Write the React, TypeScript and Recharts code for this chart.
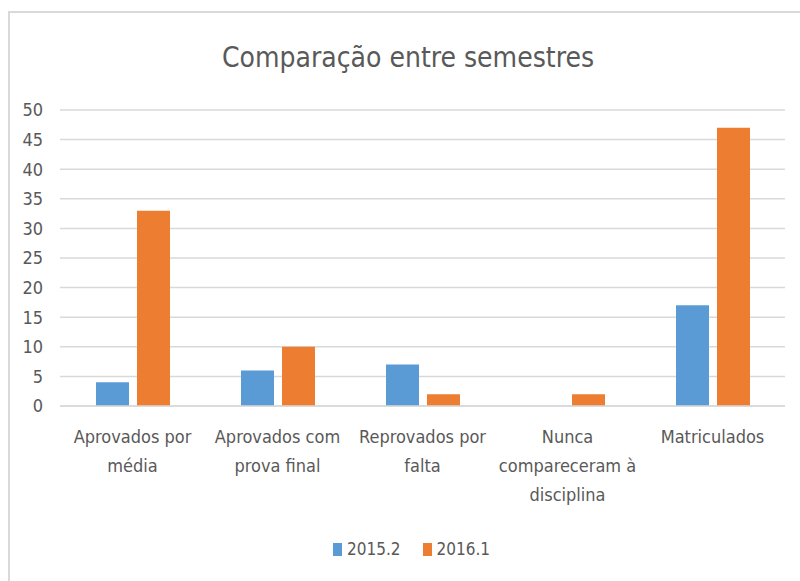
import { BarChart, Bar, XAxis, YAxis, CartesianGrid, Legend } from 'recharts';

const categories = [
  'Aprovados por média',
  'Aprovados com prova final',
  'Reprovados por falta',
  'Nunca compareceram à disciplina',
  'Matriculados',
];
const categoryLines = [
  ['Aprovados por', 'média'],
  ['Aprovados com', 'prova final'],
  ['Reprovados por', 'falta'],
  ['Nunca', 'compareceram à', 'disciplina'],
  ['Matriculados'],
];
const sem20152 = [4, 6, 7, 0, 17];
const sem20161 = [33, 10, 2, 2, 47];
const yTicks = [0, 5, 10, 15, 20, 25, 30, 35, 40, 45, 50];

const data = categories.map((c, i) => ({
  name: c,
  s1: sem20152[i],
  s2: sem20161[i],
}));

const FONT = "'Liberation Sans Narrow', 'DejaVu Sans Condensed', 'Open Sans', sans-serif";
const GREY = '#595959';
const BLUE = '#5b9bd5';
const ORANGE = '#ed7d31';

function CategoryTick(props: any) {
  const { x, y, payload } = props;
  const lines = categoryLines[payload.index] ?? [String(payload.value)];
  return (
    <text x={x} y={y + 29} textAnchor="middle" fill={GREY} fontSize={18} fontFamily={FONT}>
      {lines.map((l, i) => (
        <tspan key={i} x={x} dy={i === 0 ? 0 : 29}>{l}</tspan>
      ))}
    </text>
  );
}

function LegendContent() {
  const items = [
    { label: '2015.2', color: BLUE },
    { label: '2016.1', color: ORANGE },
  ];
  return (
    <div style={{ display: 'flex', justifyContent: 'center', gap: 22, paddingLeft: 38, fontFamily: FONT, fontSize: 17, color: GREY }}>
      {items.map(it => (
        <div key={it.label} style={{ display: 'flex', alignItems: 'center', gap: 5 }}>
          <span style={{ display: 'inline-block', width: 9, height: 13, background: it.color }} />
          <span>{it.label}</span>
        </div>
      ))}
    </div>
  );
}

export default function App() {
  return (
    <div style={{ position: 'absolute', left: 0, top: 0, width: 800, height: 581, background: '#fff', overflow: 'hidden' }}>
      {/* chart frame, only left and top edges show */}
      <div style={{ position: 'absolute', left: 8, top: 11, width: 800, height: 580, borderLeft: '2px solid #d9d9d9', borderTop: '2px solid #d9d9d9' }} />
      <div style={{ position: 'absolute', left: 0, top: 38, width: 816, textAlign: 'center', fontFamily: FONT, fontSize: 28, color: GREY, lineHeight: '40px' }}>
        Comparação entre semestres
      </div>
      <div style={{ position: 'absolute', left: 0, top: 0 }}>
        <BarChart width={800} height={581} data={data} margin={{ top: 110, right: 15, left: 0, bottom: 18 }} barSize={33} barGap={8}>
          <CartesianGrid vertical={false} stroke="#d9d9d9" strokeWidth={1.5} />
          <XAxis dataKey="name" height={133} axisLine={{ stroke: '#d9d9d9', strokeWidth: 1.5 }} tickLine={false} tick={<CategoryTick />} interval={0} />
          <YAxis width={60} domain={[0, 50]} ticks={yTicks} axisLine={false} tickLine={false} tickMargin={11} tick={{ fill: GREY, fontSize: 18, fontFamily: FONT }} />
          <Legend verticalAlign="bottom" height={24} content={<LegendContent />} />
          <Bar dataKey="s1" name="2015.2" fill={BLUE} isAnimationActive={false} />
          <Bar dataKey="s2" name="2016.1" fill={ORANGE} isAnimationActive={false} />
        </BarChart>
      </div>
    </div>
  );
}
